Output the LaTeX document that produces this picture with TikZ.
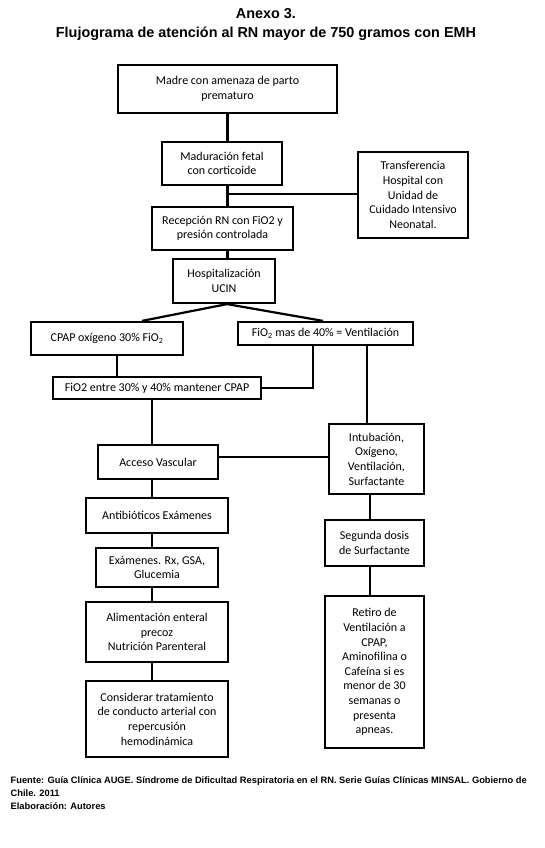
\documentclass[tikz,border=0pt]{standalone}
\usepackage{fontspec}
\setmainfont{Carlito}
\newfontfamily\arialf{Liberation Sans}
\begin{document}
\begin{tikzpicture}[x=1pt,y=-1pt,
  box/.style={draw=black, line width=2.2pt, align=center, inner sep=0pt,
    font=\fontsize{12}{14.6}\selectfont},
  conn/.style={line width=2.2pt, draw=black},
  ttl/.style={font=\arialf\bfseries\fontsize{14.4}{17}\selectfont, anchor=base, inner sep=0pt},
  foot/.style={font=\arialf\bfseries\fontsize{9.3}{11}\selectfont, anchor=base west, inner sep=0pt}]
\useasboundingbox (0,0) rectangle (544,848);
\fill[white] (0,0) rectangle (544,848);

% titles
\node[ttl] (t1) at (266,19) {Anexo 3.};
\node[ttl] (t2) at (266,37.5) {Flujograma de atención al RN mayor de 750 gramos con EMH};

% boxes
\node[box, minimum width=219pt, minimum height=48pt] (madre) at (227.5,89) {Madre con amenaza de parto\\prematuro};
\node[box, minimum width=120pt, minimum height=43pt] (madur) at (222,163.5) {Maduración fetal\\con corticoide};
\node[box, minimum width=110pt, minimum height=86pt] (transf) at (413,195) {Transferencia\\Hospital con\\Unidad de\\Cuidado Intensivo\\Neonatal.};
\node[box, minimum width=141pt, minimum height=43pt] (recep) at (222.5,228.5) {Recepción RN con FiO2 y\\presión controlada};
\node[box, minimum width=102pt, minimum height=44pt] (hosp) at (224,281) {Hospitalización\\UCIN};
\node[box, minimum width=152pt, minimum height=33pt] (cpap) at (107,338.5) {CPAP oxígeno 30\% FiO\textsubscript{2}};
\node[box, minimum width=175pt, minimum height=23pt] (fio2mas) at (325.5,333.5) {FiO\textsubscript{2} mas de 40\% = Ventilación};
\node[box, minimum width=208pt, minimum height=22pt] (fio2entre) at (157,388) {FiO2 entre 30\% y 40\% mantener CPAP};
\node[box, minimum width=120pt, minimum height=34pt] (acceso) at (158,462) {Acceso Vascular};
\node[box, minimum width=95pt, minimum height=70pt] (intub) at (376.5,459) {Intubación,\\Oxígeno,\\Ventilación,\\Surfactante};
\node[box, minimum width=142pt, minimum height=35pt] (antib) at (157,515.5) {Antibióticos Exámenes};
\node[box, minimum width=122pt, minimum height=39pt] (exam) at (157,567.5) {Exámenes. Rx, GSA,\\Glucemia};
\node[box, minimum width=142pt, minimum height=60pt] (alim) at (157,632) {Alimentación enteral\\precoz\\Nutrición Parenteral};
\node[box, minimum width=142pt, minimum height=76pt] (consid) at (157,719) {Considerar tratamiento\\de conducto arterial con\\repercusión\\hemodinámica};
\node[box, minimum width=99pt, minimum height=46pt] (segunda) at (374.5,543) {Segunda dosis\\de Surfactante};
\node[box, minimum width=99pt, minimum height=152pt] (retiro) at (374.5,672) {Retiro de\\Ventilación a\\CPAP,\\Aminofilina o\\Cafeína si es\\menor de 30\\semanas o\\presenta\\apneas.};

% connectors
\draw[conn] (madre.south) -- (madre.south |- madur.north);
\draw[conn] (madre.south |- madur.south) -- (madre.south |- recep.north);
\draw[conn] (madre.south |- recep.south) -- (madre.south |- hosp.north);
\draw[conn] ([yshift=1pt]madre.south |- transf.west) -- ([yshift=1pt]transf.west);
\draw[conn] ([xshift=3pt]hosp.south) -- ([xshift=35pt]cpap.north);
\draw[conn] ([xshift=3pt]hosp.south) -- ([xshift=-2.5pt]fio2mas.north);
\draw[conn] ([xshift=10pt]cpap.south) -- ([xshift=10pt]cpap.south |- fio2entre.north);
\draw[conn] ([xshift=-12.5pt]fio2mas.south) |- (fio2entre.east);
\draw[conn] ([xshift=41.5pt]fio2mas.south) -- ([xshift=41.5pt]fio2mas.south |- intub.north);
\draw[conn] ([xshift=-5pt]fio2entre.south) -- ([xshift=-5pt]fio2entre.south |- acceso.north);
\draw[conn] ([yshift=5pt]acceso.east) -- ([yshift=5pt]acceso.east -| intub.west);
\draw[conn] ([xshift=-6pt]acceso.south) -- ([xshift=-6pt]acceso.south |- antib.north);
\draw[conn] ([xshift=-5pt]antib.south) -- ([xshift=-5pt]antib.south |- exam.north);
\draw[conn] ([xshift=-5pt]exam.south) -- ([xshift=-5pt]exam.south |- alim.north);
\draw[conn] ([xshift=-5pt]alim.south) -- ([xshift=-5pt]alim.south |- consid.north);
\draw[conn] ([xshift=-6.5pt]intub.south) -- ([xshift=-6.5pt]intub.south |- segunda.north);
\draw[conn] ([xshift=-4.5pt]segunda.south) -- ([xshift=-4.5pt]segunda.south |- retiro.north);

% footer
\node[foot] (f1) at (10.5,783) {Fuente: Guía Clínica AUGE. Síndrome de Dificultad Respiratoria en el RN. Serie Guías Clínicas MINSAL. Gobierno de};
\node[foot] (f2) at (10.5,796) {Chile. 2011};
\node[foot] (f3) at (10.5,809) {Elaboración: Autores};
\end{tikzpicture}
\end{document}
